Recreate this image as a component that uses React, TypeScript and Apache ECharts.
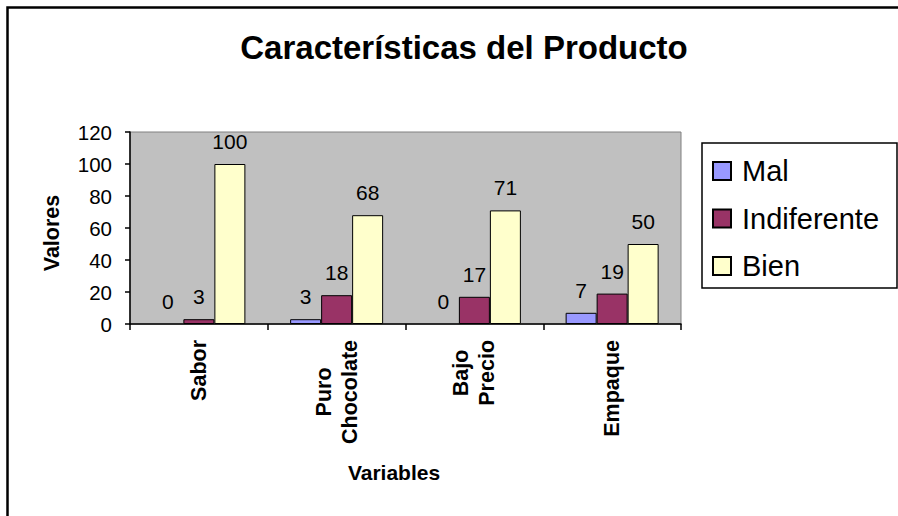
import React, { useEffect, useRef } from "react";
import * as echarts from "echarts";

const categories = ["Sabor", "Puro\nChocolate", "Bajo\nPrecio", "Empaque"];
const seriesNames = ["Mal", "Indiferente", "Bien"];
const malValues = [0, 3, 0, 7];
const indiferenteValues = [3, 18, 17, 19];
const bienValues = [100, 68, 71, 50];
const yTicks = { min: 0, max: 120, interval: 20 };
const colors = ["#9999FF", "#993366", "#FFFFCC"];

const FONT = "'Liberation Sans', Arial, sans-serif";

export default function App() {
  const ref = useRef<HTMLDivElement>(null);
  useEffect(() => {
    document.body.style.margin = "0";
    const chart = echarts.init(ref.current!, undefined, { renderer: "svg" });
    const values = [malValues, indiferenteValues, bienValues];
    const option: any = {
      animation: false,
      textStyle: { fontFamily: FONT },
      title: {
        text: "Características del Producto",
        left: 459,
        top: 26,
        textAlign: "center",
        textStyle: { fontFamily: FONT, fontSize: 33, fontWeight: "bold", color: "#000" },
      },
      grid: {
        left: 130,
        top: 132,
        width: 551,
        height: 192,
        show: true,
        backgroundColor: "#C0C0C0",
        borderColor: "#808080",
        borderWidth: 1,
      },
      legend: {
        orient: "vertical",
        left: 712,
        top: 156,
        padding: 0,
        itemWidth: 18,
        itemHeight: 18,
        itemGap: 17.5,
        icon: "rect",
        data: seriesNames,
        textStyle: { fontFamily: FONT, fontSize: 29, lineHeight: 30, color: "#000", padding: [0, 0, 0, 6] },
      },
      xAxis: {
        type: "category",
        data: categories,
        axisLine: { lineStyle: { color: "#000", width: 1.5 } },
        axisTick: { show: true, length: 6, lineStyle: { color: "#000", width: 1.5 } },
        axisLabel: {
          rotate: 90,
          margin: 16,
          interval: 0,
          formatter: (v: string) => v.split("\n").map((l) => `{c|${l}}`).join("\n"),
          rich: {
            c: {
              align: "center",
              fontFamily: FONT,
              fontSize: 21.5,
              fontWeight: "bold",
              lineHeight: 26,
              color: "#000",
            },
          },
        },
      },
      yAxis: {
        type: "value",
        min: yTicks.min,
        max: yTicks.max,
        interval: yTicks.interval,
        splitLine: { show: false },
        axisLine: { show: true, lineStyle: { color: "#000", width: 1.5 } },
        axisTick: { show: true, length: 5, lineStyle: { color: "#000", width: 1.5 } },
        axisLabel: { margin: 18, fontFamily: FONT, fontSize: 20.5, color: "#000" },
      },
      series: seriesNames.map((name, i) => ({
        name,
        type: "bar",
        data: values[i].map((v) => (v === 0 ? { value: v, itemStyle: { borderWidth: 0 } } : v)),
        barWidth: 31,
        barGap: "0%",
        itemStyle: { color: colors[i], borderColor: "#000", borderWidth: 1 },
        label: {
          show: true,
          position: "top",
          distance: 12,
          fontFamily: FONT,
          fontSize: 21,
          color: "#000",
        },
      })),
      graphic: [
        {
          type: "rect",
          z: -1,
          shape: { x: 7.5, y: 7.5, width: 1000, height: 1000 },
          style: { fill: "none", stroke: "#000", lineWidth: 2.5 },
        },
        {
          type: "rect",
          z: -1,
          shape: { x: 702, y: 143, width: 195, height: 145 },
          style: { fill: "#fff", stroke: "#000", lineWidth: 1.5 },
        },
        {
          type: "text",
          x: 52,
          y: 233,
          rotation: Math.PI / 2,
          style: {
            text: "Valores",
            fontFamily: FONT,
            fontSize: 21.5,
            fontWeight: "bold",
            fill: "#000",
            align: "center",
            verticalAlign: "middle",
          },
        },
        {
          type: "text",
          x: 394,
          y: 472,
          style: {
            text: "Variables",
            fontFamily: FONT,
            fontSize: 21,
            fontWeight: "bold",
            fill: "#000",
            align: "center",
            verticalAlign: "middle",
          },
        },
      ],
    };
    chart.setOption(option);
    return () => chart.dispose();
  }, []);
  return (
    <div
      ref={ref}
      style={{ position: "absolute", left: 0, top: 0, width: 898, height: 516, background: "#fff" }}
    />
  );
}
